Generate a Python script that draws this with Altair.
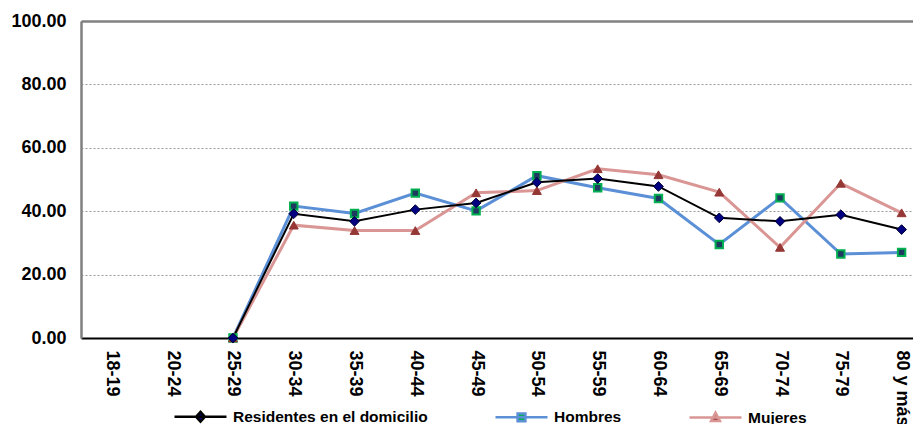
import altair as alt
import pandas as pd

ages = ["18-19", "20-24", "25-29", "30-34", "35-39", "40-44", "45-49",
        "50-54", "55-59", "60-64", "65-69", "70-74", "75-79", "80 y más"]
residentes = [None, None, 0.0, 39.2, 36.8, 40.5, 42.6, 49.1, 50.3, 47.8, 37.9, 36.8, 38.9, 34.2]
hombres = [None, None, 0.0, 41.6, 39.3, 45.7, 40.1, 51.2, 47.4, 44.0, 29.5, 44.2, 26.5, 27.0]
mujeres = [None, None, 0.0, 35.6, 33.9, 33.9, 45.8, 46.5, 53.4, 51.5, 46.0, 28.6, 48.8, 39.5]

series = ["Residentes en el domicilio", "Hombres", "Mujeres"]
line_colors = ["#000000", "#5B8FD6", "#D99694"]
marker_fills = ["#000080", "#00B050", "#953735"]
y_ticks = [0, 20, 40, 60, 80, 100]

# legend symbols: a short line with the marker in its middle
legend_shapes = [
    "M-1,0H1M0,-0.19L0.17,0L0,0.19L-0.17,0Z",
    "M-1,0H1M-0.15,-0.15H0.15V0.15H-0.15Z",
    "M-1,0H1M0,-0.19L0.17,0.13H-0.17Z",
]

rows = []
for name, vals in [("Hombres", hombres), ("Mujeres", mujeres),
                   ("Residentes en el domicilio", residentes)]:
    for a, v in zip(ages, vals):
        if v is not None:
            rows.append({"edad": a, "valor": v, "serie": name})
df = pd.DataFrame(rows)

FONT = "Liberation Sans"
X_RANGE = [0, 851]

x_scale = alt.Scale(domain=ages, padding=0.5, range=X_RANGE)
y_scale = alt.Scale(domain=[0, 100], nice=False)

x_enc = alt.X(
    "edad:N", scale=x_scale, sort=ages,
    axis=alt.Axis(title=None, labelAngle=90, labelAlign="left", labelBaseline="middle",
                  labelFont=FONT, labelFontSize=18, labelFontWeight="bold",
                  labelColor="#000000", ticks=False, labelPadding=12,
                  domainColor="#000000", domainWidth=2, grid=False),
)
x_none = alt.X("edad:N", scale=x_scale, sort=ages, axis=None)
x_top = alt.X(
    "edad:N", scale=x_scale, sort=ages,
    axis=alt.Axis(title=None, orient="top", labels=False, ticks=False,
                  domainColor="#808080", domainWidth=2.5, grid=False),
)
y_enc = alt.Y(
    "valor:Q", scale=y_scale,
    axis=alt.Axis(title=None, values=y_ticks, format=".2f", labelFont=FONT,
                  labelFontSize=18, labelFontWeight="bold", labelColor="#000000",
                  ticks=False, labelPadding=15, domain=True, domainColor="#808080",
                  domainWidth=2.5,
                  grid=True, gridColor="#999999", gridDash=[2, 2], gridWidth=1),
)

# Hombres / Mujeres lines (alphabetical data-driven domain, kept apart from legend scales)
sex_lines = alt.Chart(df).transform_filter(
    alt.datum.serie != series[0]
).mark_line(strokeWidth=3).encode(
    x=x_enc, y=y_enc,
    color=alt.Color("serie:N", scale=alt.Scale(range=[line_colors[1], line_colors[2]]),
                    legend=None),
)
res_line = alt.Chart(df).transform_filter(
    alt.datum.serie == series[0]
).mark_line(strokeWidth=2, color=line_colors[0]).encode(x=x_none, y=y_enc)

top_border = alt.Chart(df).mark_point(opacity=0, size=0).encode(x=x_top, y=y_enc)

leg = alt.Legend(
    title=None, orient="none", legendX=92, legendY=368, padding=0,
    direction="horizontal", symbolSize=2704, symbolStrokeWidth=2.5,
    symbolFillColor="#000000", labelLimit=0,
    labelFont=FONT, labelFontSize=15.5, labelFontWeight="bold",
    labelColor="#000000", columnPadding=62, labelOffset=5, symbolOpacity=1,
)

legend_layer = alt.Chart(df).mark_point(filled=True, opacity=1, size=0).encode(
    x=x_none, y=y_enc,
    stroke=alt.Stroke("serie:N", scale=alt.Scale(domain=series, range=line_colors), legend=leg),
    fill=alt.Fill("serie:N", scale=alt.Scale(domain=series, range=marker_fills), legend=leg),
    shape=alt.Shape("serie:N", scale=alt.Scale(domain=series, range=legend_shapes), legend=leg),
)

pts = alt.Chart(df).encode(x=x_none, y=y_enc)
res_pts = pts.transform_filter(alt.datum.serie == series[0]).mark_point(
    shape="diamond", filled=True, size=95, fill="#000080", stroke="#000033",
    strokeWidth=1, opacity=1)
hom_pts = pts.transform_filter(alt.datum.serie == series[1]).mark_point(
    shape="square", filled=True, size=55, fill="#1F3A60", stroke="#00B050",
    strokeWidth=2, opacity=1)
muj_pts = pts.transform_filter(alt.datum.serie == series[2]).mark_point(
    shape="triangle-up", filled=True, size=80, fill="#953735", stroke="#953735",
    strokeWidth=1, opacity=1)

chart = alt.layer(sex_lines, res_line, hom_pts, muj_pts, res_pts, legend_layer,
                  top_border).resolve_axis(
    x="independent"
).properties(
    width=832, height=317,
    autosize=alt.AutoSizeParams(type="none"),
    padding={"left": 73, "top": 13, "right": 0, "bottom": 86},
).configure_view(
    stroke=None
)

chart.save("out.html", embed_options={"renderer": "svg", "actions": False})
